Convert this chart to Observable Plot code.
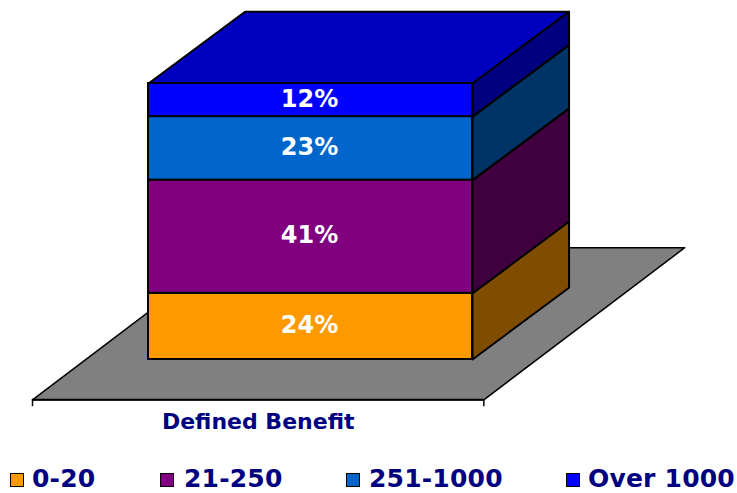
<!DOCTYPE html>
<html>
<head>
<meta charset="utf-8">
<script src="https://cdn.jsdelivr.net/npm/d3@7"></script>
<script src="https://cdn.jsdelivr.net/npm/@observablehq/plot@0.6"></script>
<style>
html,body{margin:0;padding:0;background:#fff;overflow:hidden}
svg{display:block}
#legend{position:relative;height:53px;font:bold 25px "DejaVu Sans",sans-serif;color:#000080;letter-spacing:.2px}
#legend span{position:absolute;top:24px;line-height:30px;white-space:nowrap}
#legend i{position:absolute;top:33px;width:12px;height:12px;border:1.5px solid #000;display:block}
</style>
</head>
<body>
<div id="chart"></div>
<div id="legend"></div>
<script>
const categories = ["0-20", "21-250", "251-1000", "Over 1000"];
const values = [24, 41, 23, 12];
const frontColors = ["#FF9900", "#800080", "#0066CC", "#0000FF"];
const sideColors = ["#804C00", "#400040", "#003366", "#000080"];
const groupLabel = "Defined Benefit";

// oblique projection, in data units (x: bar widths, y: percentage points)
const depthX = 0.298, depthY = 26;
const floor = {left: -0.358, right: 1.035, y: -14.6, dx: 0.62, dy: 55.1};
const tops = d3.cumsum(values);
const segs = categories.map((c, i) => ({c, v: values[i], y1: i ? tops[i - 1] : 0, y2: tops[i], i}));

const poly = (id, pts) => [...pts, pts[0]].map(([x, y]) => ({id, x, y}));
const floorPts = poly("floor", [
  [floor.left, floor.y], [floor.right, floor.y],
  [floor.right + floor.dx, floor.y + floor.dy], [floor.left + floor.dx, floor.y + floor.dy]
]);
const sidePts = segs.flatMap((s) => poly(s.i, [
  [1, s.y1], [1 + depthX, s.y1 + depthY], [1 + depthX, s.y2 + depthY], [1, s.y2]
]));
const topPts = poly("top", [
  [0, 100], [1, 100], [1 + depthX, 100 + depthY], [depthX, 100 + depthY]
]);

const chart = Plot.plot({
  width: 737,
  height: 440,
  margin: 0,
  x: {type: "linear", domain: [0, 1], range: [148, 472], axis: null},
  y: {type: "linear", domain: [0, 100], range: [359, 83], axis: null},
  marks: [
    Plot.line(floorPts, {x: "x", y: "y", z: "id", fill: "#808080", stroke: "#000", strokeWidth: 1.5}),
    Plot.ruleY([floor.y], {x1: floor.left, x2: floor.right, stroke: "#000", strokeWidth: 2}),
    Plot.ruleX([floor.left, floor.right], {y1: floor.y, y2: floor.y - 2.5, stroke: "#000", strokeWidth: 1.5}),
    Plot.line(topPts, {x: "x", y: "y", z: "id", fill: "#0000C0", stroke: "#000", strokeWidth: 2}),
    Plot.line(sidePts, {x: "x", y: "y", z: "id", fill: (d) => sideColors[d.id], stroke: "#000", strokeWidth: 2}),
    Plot.rect(segs, {x1: () => 0, x2: () => 1, y1: "y1", y2: "y2", fill: (d) => frontColors[d.i], stroke: "#000", strokeWidth: 2}),
    Plot.text(segs, {x: () => 0.497, y: (d) => (d.y1 + d.y2) / 2 + 0.4, text: (d) => d.v + "%", fill: "#fff",
      fontSize: 24, fontWeight: "bold", fontFamily: "DejaVu Sans"}),
    Plot.text([groupLabel], {x: (floor.left + floor.right) / 2, y: floor.y - 8.1, text: (d) => d, fill: "#000080",
      fontSize: 22, fontWeight: "bold", fontFamily: "DejaVu Sans"})
  ]
});
document.getElementById("chart").append(chart);

const swatchLeft = [10, 160, 346, 566], textLeft = [32, 184, 369, 588];
const legend = document.getElementById("legend");
categories.forEach((c, i) => {
  const sw = document.createElement("i");
  sw.style.left = swatchLeft[i] + "px";
  sw.style.background = frontColors[i];
  const t = document.createElement("span");
  t.style.left = textLeft[i] + "px";
  t.textContent = c;
  legend.append(sw, t);
});
</script>
</body>
</html>
